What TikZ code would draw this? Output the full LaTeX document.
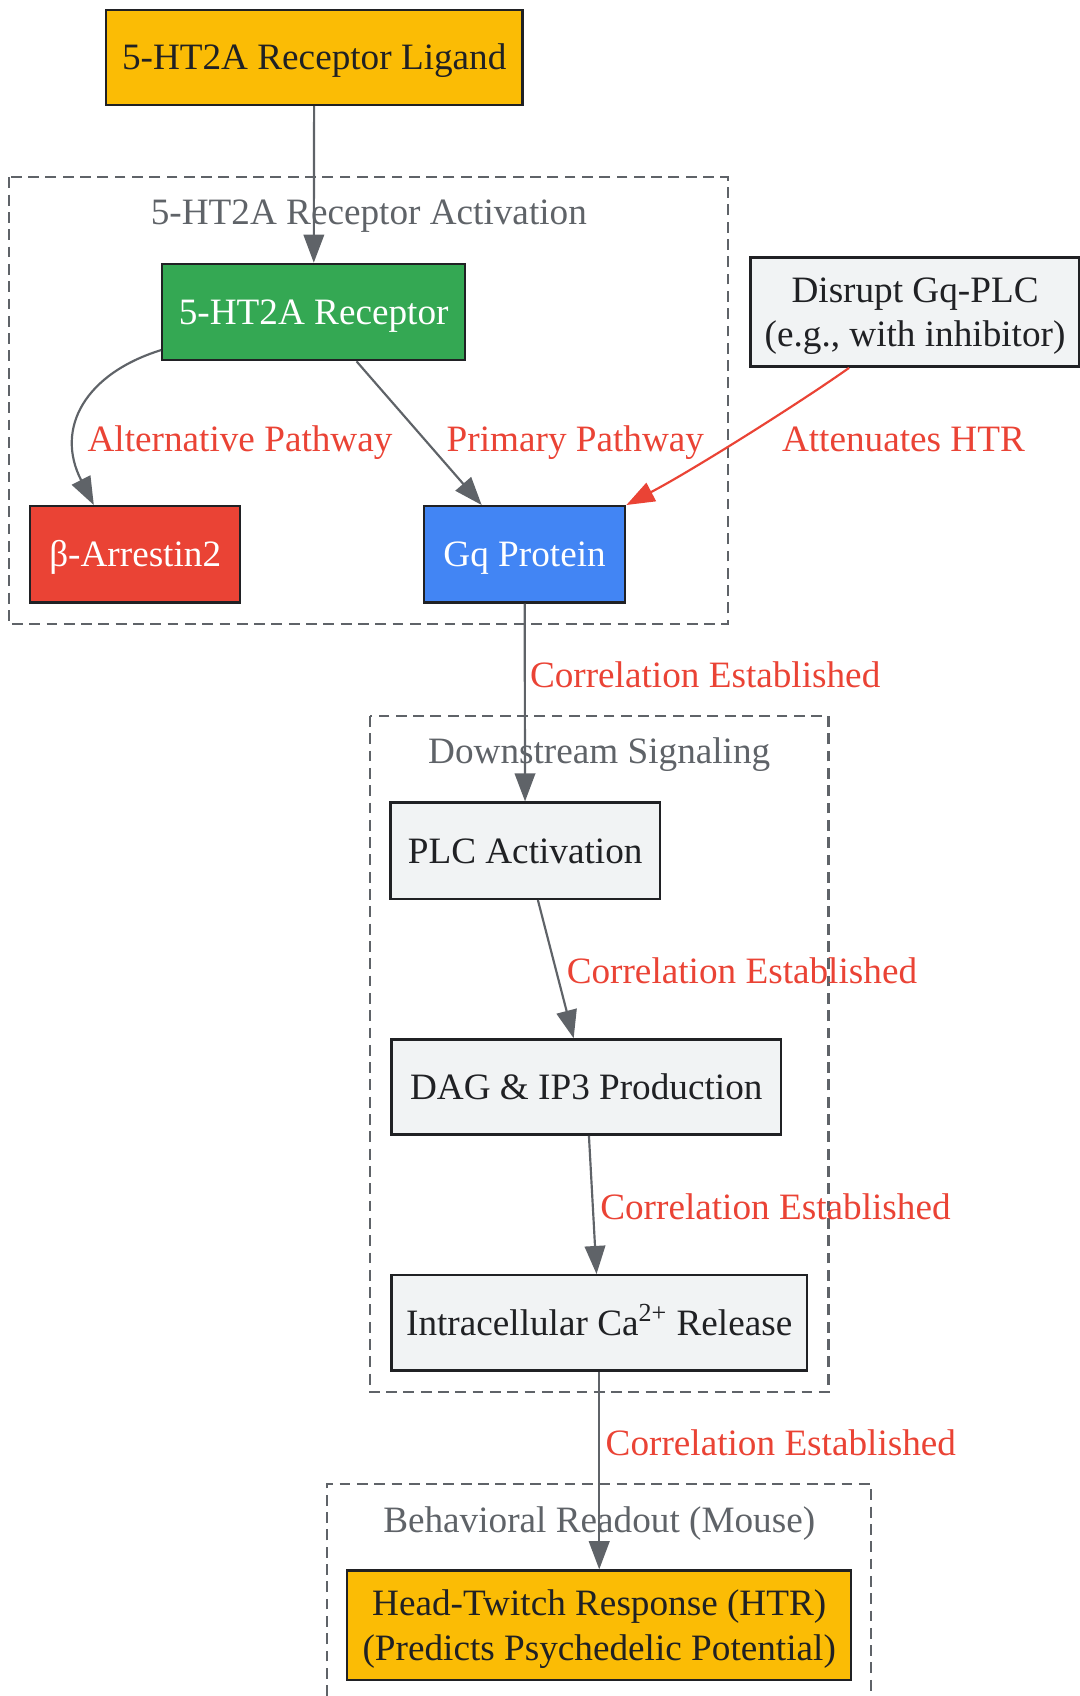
\documentclass[tikz,border=0pt]{standalone}
\usepackage{fontspec}
\setmainfont{Liberation Serif}
\usetikzlibrary{arrows.meta}
\definecolor{ink}{HTML}{202124}
\definecolor{slate}{HTML}{5F6368}
\definecolor{gyellow}{HTML}{FBBC05}
\definecolor{ggreen}{HTML}{34A853}
\definecolor{gred}{HTML}{EA4335}
\definecolor{gblue}{HTML}{4285F4}
\definecolor{glight}{HTML}{F1F3F4}

\begin{document}
\begin{tikzpicture}[x=0.5pt,y=-0.5pt,
        font=\fontsize{17.2}{20.5}\selectfont,
        box/.style={draw=ink, line width=1.1pt, inner sep=0pt, align=center, text=ink, text height=11.6pt, text depth=0pt},
        twoline/.style={draw=ink, line width=1.1pt, inner sep=0pt, align=center, text=ink, text depth=-2pt},
        group/.style={draw=slate, line width=1pt, dash pattern=on 5pt off 3pt},
        grouplabel/.style={text=slate, inner sep=0pt, text height=11.6pt, text depth=0pt},
        link/.style={color=slate, line width=1pt, -{Triangle[length=13pt,width=9.5pt]}},
        tag/.style={text=gred, anchor=west, inner sep=0pt, text height=11.6pt, text depth=0pt}]

            \useasboundingbox (0,0) rectangle (998,1568);

            \draw[group] (8,164) rectangle (673,577);
            \node[grouplabel] (actlabel) at (341,196) {5-HT2A Receptor Activation};
            \draw[group] (342,662) rectangle (766,1287);
            \node[grouplabel] (downlabel) at (554,694) {Downstream Signaling};
            \draw[group] (302,1600) -- (302,1372) -- (805,1372) -- (805,1600);
            \node[grouplabel] (behlabel) at (554,1405) {Behavioral Readout (Mouse)};

            \node[box, fill=gyellow, minimum width=192.5pt, minimum height=44pt] (ligand) at (290.5,53) {5-HT2A Receptor Ligand};
            \node[box, fill=ggreen, text=white, minimum width=140pt, minimum height=44.5pt] (receptor) at (290,288.5) {5-HT2A Receptor};
            \node[box, fill=gred, text=white, minimum width=97pt, minimum height=44.5pt] (arrestin) at (125,512.5) {β-Arrestin2};
            \node[box, fill=gblue, text=white, minimum width=93pt, minimum height=44.5pt] (gq) at (485,512.5) {Gq Protein};
            \node[twoline, fill=glight, minimum width=152pt, minimum height=50.5pt] (disrupt) at (846,288.5) {Disrupt Gq-PLC\\(e.g., with inhibitor)};
            \node[box, fill=glight, minimum width=124.5pt, minimum height=44.5pt] (plc) at (485.5,786.5) {PLC Activation};
            \node[box, fill=glight, minimum width=180pt, minimum height=44pt] (dag) at (542,1005) {DAG \& IP3 Production};
            \node[box, fill=glight, minimum width=192pt, minimum height=44pt] (calcium) at (554,1223) {Intracellular Ca\textsuperscript{2+} Release};
            \node[twoline, fill=gyellow, minimum width=233pt, minimum height=50.5pt] (htr) at (554,1502.5) {Head-Twitch Response (HTR)\\(Predicts Psychedelic Potential)};

            \draw[link] (ligand) -- (receptor);
            \draw[link] (receptor.194) .. controls (80,345) and (50,395) .. (arrestin.130) node[tag] (altlabel) at (80,406) {Alternative Pathway};
            \draw[link] (receptor) -- (gq) node[tag] (primlabel) at (412,406) {Primary Pathway};
            \draw[link, color=gred] ([xshift=-30.5pt]disrupt.south) .. controls (740,372) and (640,435) .. (gq.north east) node[tag] (attlabel) at (722,406) {Attenuates HTR};
            \draw[link] (gq) -- (plc) node[tag] (corrlabela) at (489,624) {Correlation Established};
            \draw[link] (plc) -- (dag) node[tag] (corrlabelb) at (523,898) {Correlation Established};
            \draw[link] (dag) -- (calcium) node[tag] (corrlabelc) at (554,1116) {Correlation Established};
            \draw[link] (calcium) -- (htr) node[tag] (corrlabeld) at (559,1334) {Correlation Established};

          \end{tikzpicture}
\end{document}
